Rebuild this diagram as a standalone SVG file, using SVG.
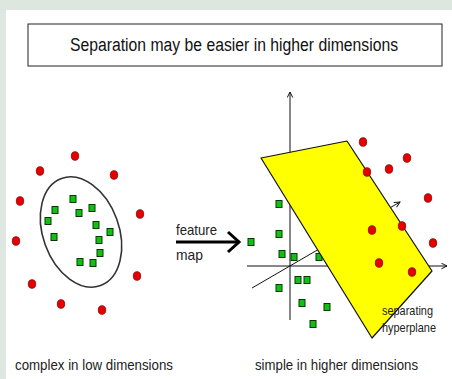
<svg xmlns="http://www.w3.org/2000/svg" width="452" height="379" viewBox="0 0 452 379">
<defs>
<style>
.red{fill:#e60000;stroke:#8a0000;stroke-width:0.8}
.grn{fill:#12c012;stroke:#063806;stroke-width:1}
.ax{stroke:#111;stroke-width:1;fill:none}
.lbl{font-family:"Liberation Sans",Arial,sans-serif;fill:#222}
</style>
<symbol id="d" overflow="visible"><ellipse class="red" cx="0" cy="0" rx="3.7" ry="4.3"/></symbol>
<symbol id="s" overflow="visible"><rect class="grn" x="-3" y="-3.5" width="6" height="7"/></symbol>
<marker id="oa" viewBox="0 0 10 10" refX="9" refY="5" markerWidth="7" markerHeight="7" orient="auto" markerUnits="userSpaceOnUse"><path d="M1,1 L9,5 L1,9" fill="none" stroke="#111" stroke-width="1.4"/></marker>
</defs>
<rect width="452" height="379" fill="#dde7e0"/>
<rect x="6" y="10" width="446" height="369" fill="#ffffff"/>

<g id="title">
<rect x="28" y="24" width="414" height="42" fill="#fff" stroke="#222" stroke-width="1"/>
<text x="234" y="51" text-anchor="middle" font-family="'Liberation Sans',Arial,sans-serif" font-size="18" fill="#111" textLength="328" lengthAdjust="spacingAndGlyphs">Separation may be easier in higher dimensions</text>
</g>

<g id="low-dim">
<ellipse cx="81" cy="232" rx="38" ry="57" transform="rotate(-20 81 232)" fill="none" stroke="#333" stroke-width="1.6"/>
<use href="#d" x="75" y="156"/><use href="#d" x="40" y="171"/><use href="#d" x="114" y="175"/>
<use href="#d" x="20" y="201"/><use href="#d" x="140" y="214"/><use href="#d" x="16" y="241"/>
<use href="#d" x="137" y="276"/><use href="#d" x="32" y="284"/><use href="#d" x="61" y="304"/>
<use href="#d" x="102" y="310"/>
<use href="#s" x="73" y="199"/><use href="#s" x="55" y="210"/><use href="#s" x="79" y="213"/>
<use href="#s" x="92" y="208"/><use href="#s" x="48" y="221"/><use href="#s" x="96" y="225"/>
<use href="#s" x="110" y="232"/><use href="#s" x="54" y="237"/><use href="#s" x="99" y="240"/>
<use href="#s" x="100" y="253"/><use href="#s" x="80" y="262"/><use href="#s" x="93" y="263"/>
</g>

<g id="connectors">
<line x1="176" y1="242" x2="238" y2="242" stroke="#000" stroke-width="3"/>
<path d="M228,232 L239,242 L228,252" fill="none" stroke="#000" stroke-width="3"/>
</g>
<g id="feature-map">
<text class="lbl" x="176" y="235" font-size="15" textLength="41" lengthAdjust="spacingAndGlyphs">feature</text>
<text class="lbl" x="176" y="260" font-size="15" textLength="27" lengthAdjust="spacingAndGlyphs">map</text>
</g>

<g id="high-dim">
<line class="ax" x1="290" y1="320" x2="290" y2="92" marker-end="url(#oa)"/>
<line class="ax" x1="247" y1="266" x2="447" y2="266" marker-end="url(#oa)"/>
<line class="ax" x1="252" y1="288" x2="400" y2="202" marker-end="url(#oa)"/>
<use href="#s" x="279" y="204"/><use href="#s" x="251" y="242"/><use href="#s" x="279" y="234"/>
<use href="#s" x="282" y="254"/><use href="#s" x="294" y="257"/><use href="#s" x="319" y="257"/>
<use href="#s" x="298" y="280"/><use href="#s" x="307" y="280"/><use href="#s" x="279" y="288"/>
<use href="#s" x="302" y="303"/><use href="#s" x="327" y="307"/><use href="#s" x="313" y="324"/>
<use href="#d" x="363" y="142"/><use href="#d" x="407" y="158"/><use href="#d" x="389" y="169"/>
<use href="#d" x="428" y="198"/><use href="#d" x="433" y="243"/>
</g>

<g id="hyperplane">
<polygon points="261,158 347,141 432,271 372,338" fill="#ffff00" stroke="#111" stroke-width="1.2" stroke-linejoin="round"/>
<use href="#d" x="367" y="172"/><use href="#d" x="402" y="226"/><use href="#d" x="372" y="230"/>
<use href="#d" x="379" y="263"/><use href="#d" x="412" y="272"/>
<text class="lbl" x="382" y="315" font-size="13" fill="#333" textLength="51" lengthAdjust="spacingAndGlyphs">separating</text>
<text class="lbl" x="382" y="332" font-size="13" fill="#333" textLength="54" lengthAdjust="spacingAndGlyphs">hyperplane</text>
</g>

<g id="captions">
<text class="lbl" x="15" y="370" font-size="15" fill="#333" textLength="158" lengthAdjust="spacingAndGlyphs">complex in low dimensions</text>
<text class="lbl" x="255" y="370" font-size="15" fill="#333" textLength="163" lengthAdjust="spacingAndGlyphs">simple in higher dimensions</text>
</g>
</svg>
